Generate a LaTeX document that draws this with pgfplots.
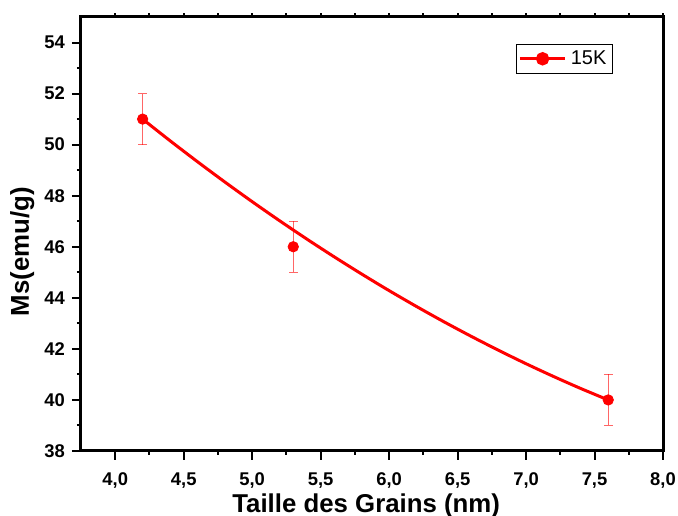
\documentclass[border=0pt]{standalone}
\usepackage{pgfplots}
\pgfplotsset{compat=1.18}
\usepackage{fontspec}
\setmainfont{Liberation Sans}
\begin{document}
\begin{tikzpicture}
\begin{axis}[
  name=ax,
  scale only axis,
  width=291pt, height=217pt,
  xmin=3.75, xmax=8.0,
  ymin=38, ymax=55,
  xtick={4,4.5,...,8},
  ytick={38,40,...,54},
  minor x tick num=1,
  minor y tick num=1,
  tick pos=left,
  tick align=outside,
  major tick length=4.5pt,
  minor tick length=2pt,
  every tick/.style={black, line width=1pt},
  axis line style={line width=1.5pt},
  /pgf/number format/assume math mode=true,
  tick label style={font=\fontsize{9.2}{11}\selectfont\bfseries},
  xticklabel style={yshift=-3pt, /pgf/number format/.cd, fixed, fixed zerofill, precision=1, use comma},
  yticklabel style={/pgf/number format/.cd, fixed, precision=0},
  xlabel={Taille des Grains (nm)},
  ylabel={Ms(emu/g)},
  label style={font=\fontsize{12.9}{15}\selectfont\bfseries},
  xlabel style={at={(axis description cs:0.49,-0.127)}, anchor=center},
  ylabel style={at={(axis description cs:-0.101,0.459)}, anchor=center},
  legend style={at={(0.914,0.938)}, anchor=north east, draw=black, line width=0.5pt,
    font=\fontsize{10}{12}\selectfont, inner sep=1pt},
  legend image code/.code={
    \draw[#1, mark repeat=2, mark phase=2] plot coordinates {(0cm,0cm) (0.4cm,0cm) (0.8cm,0cm)};
  },
]
\addplot[red, line width=1.5pt, smooth, forget plot] coordinates {
  (4.2,51.000) (4.4,50.154) (4.6,49.334) (4.8,48.538) (5.0,47.766) (5.2,47.020)
  (5.4,46.298) (5.6,45.602) (5.8,44.930) (6.0,44.282) (6.2,43.660) (6.4,43.062)
  (6.6,42.490) (6.8,41.942) (7.0,41.418) (7.2,40.920) (7.4,40.446) (7.6,40.000)
};
\addplot[red, only marks, mark=*, mark size=2.6pt, forget plot,
  error bars/.cd, y dir=both, y explicit,
  error bar style={red, opacity=0.6, line width=0.6pt},
  error mark options={rotate=90, mark size=2.2pt, red, opacity=0.6, line width=0.6pt}
] coordinates {
  (4.2,51) +- (0,1)
  (5.3,46) +- (0,1)
  (7.6,40) +- (0,1)
};
\addlegendimage{red, line width=1.5pt, mark=*, mark size=2.6pt, mark options={solid}}
\addlegendentry{15K}
\end{axis}
\begin{axis}[
  scale only axis,
  width=291pt, height=217pt,
  xmin=3.75, xmax=8.0,
  ymin=38, ymax=55,
  axis x line*=top,
  hide y axis,
  xtick={4,4.5,...,8},
  minor x tick num=1,
  xticklabels={},
  tick align=outside,
  major tick length=1.8pt,
  minor tick length=1.8pt,
  every tick/.style={black, line width=1pt},
  axis line style={line width=1.5pt},
]
\end{axis}
\pgfresetboundingbox
\path ([shift={(-40.5pt,-32.5pt)}]ax.south west) rectangle ([shift={(7.5pt,8.5pt)}]ax.north east);
\end{tikzpicture}
\end{document}
